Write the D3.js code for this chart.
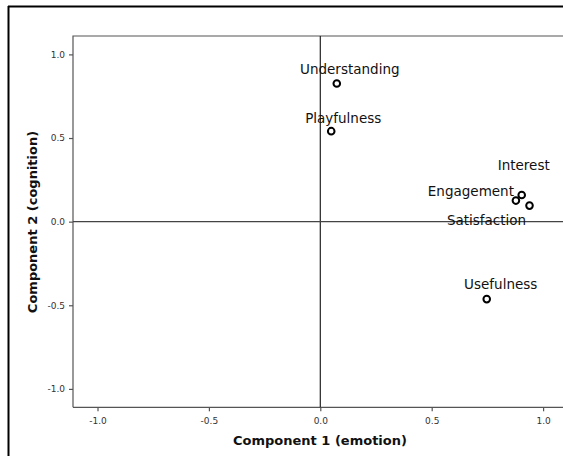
<!DOCTYPE html>
<html><head><meta charset="utf-8">
<script src="https://cdn.jsdelivr.net/npm/d3@7"></script>
<style>
html,body{margin:0;padding:0;background:#fff;}
svg{display:block;}
</style>
</head><body>
<script>
// ---- data ----
const labels = ["Understanding","Playfulness","Interest","Engagement","Satisfaction","Usefulness"];
const comp1 = [0.074, 0.049, 0.904, 0.878, 0.939, 0.747];
const comp2 = [0.826, 0.541, 0.159, 0.126, 0.096, -0.463];
const tickValues = [-1.0, -0.5, 0.0, 0.5, 1.0];
const xTitle = "Component 1 (emotion)";
const yTitle = "Component 2 (cognition)";

// label placement (pixel offsets from point: text anchor middle, baseline)
const labelOffsets = {
  "Understanding":[13,-9],
  "Playfulness":[12,-8],
  "Interest":[2,-25],
  "Engagement":[-45,-5],
  "Satisfaction":[-43,19.5],
  "Usefulness":[14,-10]
};

const W = 563, H = 456;
const svg = d3.select("body").append("svg").attr("width",W).attr("height",H);
svg.append("rect").attr("width",W).attr("height",H).attr("fill","#fff");

// outer frame
svg.append("line").attr("x1",8.5).attr("x2",8.5).attr("y1",6).attr("y2",H).attr("stroke","#000").attr("stroke-width",2);
svg.append("line").attr("x1",8).attr("x2",W).attr("y1",6.5).attr("y2",6.5).attr("stroke","#000").attr("stroke-width",2);

const plot = {l:73, r:567.6, t:36, b:407.3};
const x = d3.scaleLinear().domain([-1.11,1.11]).range([plot.l, plot.r]);
const y = d3.scaleLinear().domain([-1.11,1.11]).range([plot.b, plot.t]);

// plot frame (left, top, bottom)
const frame = svg.append("g").attr("stroke","#555").attr("stroke-width",1.2).attr("fill","none");
frame.append("path").attr("d",`M${plot.l},${plot.b}V${plot.t}H${plot.r}`);
frame.append("line").attr("x1",plot.l).attr("x2",plot.r).attr("y1",plot.b).attr("y2",plot.b);

// axes
const fmt = d3.format(".1f");
const tickFmt = d => fmt(d).replace("−","-");
const xAxis = d3.axisBottom(x).tickValues(tickValues).tickFormat(tickFmt).tickSize(4).tickSizeOuter(0);
const yAxis = d3.axisLeft(y).tickValues(tickValues).tickFormat(tickFmt).tickSize(4).tickSizeOuter(0);
const gx = svg.append("g").attr("transform",`translate(0,${plot.b})`).call(xAxis);
const gy = svg.append("g").attr("transform",`translate(${plot.l},0)`).call(yAxis);
[gx,gy].forEach(g=>{
  g.select(".domain").remove();
  g.selectAll(".tick line").attr("stroke","#555").attr("stroke-width",1.2);
  g.selectAll(".tick text").attr("font-family","'DejaVu Sans', sans-serif").attr("font-size",9).attr("fill","#333");
});
gx.selectAll(".tick text").attr("dy","1.1em");
gy.selectAll(".tick text").attr("dx","-1px");

// zero reference lines
svg.append("line").attr("x1",x(0)).attr("x2",x(0)).attr("y1",plot.t).attr("y2",plot.b).attr("stroke","#222").attr("stroke-width",1.2);
svg.append("line").attr("x1",plot.l).attr("x2",plot.r).attr("y1",y(0)).attr("y2",y(0)).attr("stroke","#444").attr("stroke-width",1.2);

// axis titles
svg.append("text").attr("x",320).attr("y",445).attr("text-anchor","middle")
  .attr("font-family","'DejaVu Sans', sans-serif").attr("font-weight","bold").attr("font-size",13).attr("fill","#111").text(xTitle);
svg.append("text").attr("transform",`translate(37,222) rotate(-90)`).attr("text-anchor","middle")
  .attr("font-family","'DejaVu Sans', sans-serif").attr("font-weight","bold").attr("font-size",13).attr("fill","#111").text(yTitle);

// points
const data = labels.map((l,i)=>({label:l, c1:comp1[i], c2:comp2[i]}));
svg.append("g").selectAll("circle").data(data).join("circle")
  .attr("cx",d=>x(d.c1)).attr("cy",d=>y(d.c2)).attr("r",3.3)
  .attr("fill","#fff").attr("stroke","#000").attr("stroke-width",2);

svg.append("g").selectAll("text").data(data).join("text")
  .attr("x",d=>x(d.c1)+labelOffsets[d.label][0])
  .attr("y",d=>y(d.c2)+labelOffsets[d.label][1])
  .attr("text-anchor","middle")
  .attr("font-family","'DejaVu Sans', sans-serif").attr("font-size",13.5).attr("fill","#111")
  .text(d=>d.label);
</script>
</body></html>
